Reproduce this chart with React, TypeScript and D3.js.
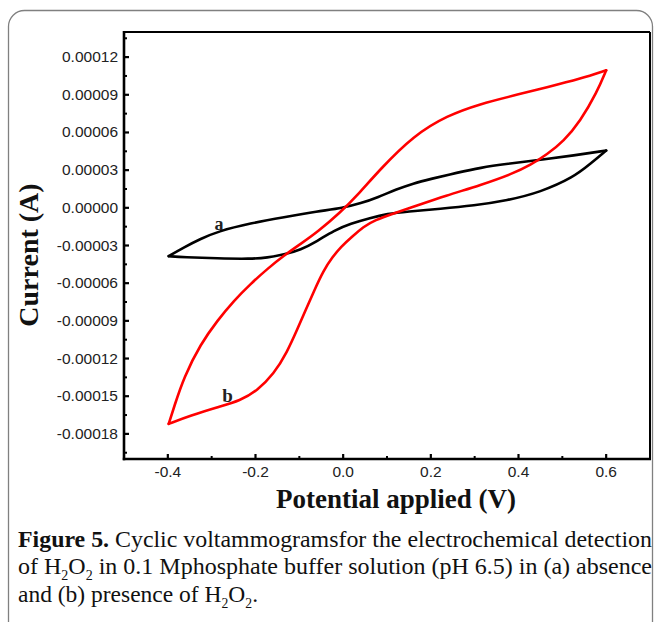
import React from "react";
import * as d3 from "d3";

// ---- data (potential V, current A) ----
const curveAForward: [number, number][] = [
  [-0.398, -3.85e-5], [-0.363, -3.14e-5], [-0.325, -2.47e-5], [-0.287, -1.89e-5],
  [-0.211, -1.22e-5], [-0.135, -0.75e-5], [-0.059, -0.29e-5], [0.0, 0.0],
  [0.04, 0.35e-5], [0.08, 0.85e-5], [0.12, 1.45e-5], [0.16, 1.95e-5], [0.2, 2.3e-5],
  [0.26, 2.8e-5], [0.313, 3.2e-5], [0.374, 3.5e-5], [0.45, 3.82e-5],
  [0.526, 4.17e-5], [0.6, 4.56e-5],
];
const curveAReturn: [number, number][] = [
  [0.6, 4.56e-5], [0.564, 3.5e-5], [0.526, 2.44e-5], [0.45, 1.24e-5],
  [0.374, 0.58e-5], [0.298, 0.18e-5], [0.222, -0.08e-5], [0.146, -0.29e-5],
  [0.1, -0.48e-5], [0.062, -0.8e-5], [0.017, -1.25e-5], [-0.021, -1.8e-5],
  [-0.059, -2.65e-5], [-0.097, -3.35e-5], [-0.135, -3.72e-5], [-0.173, -3.97e-5],
  [-0.211, -4.07e-5], [-0.287, -4.03e-5], [-0.363, -3.93e-5], [-0.398, -3.85e-5],
];
const curveBForward: [number, number][] = [
  [-0.398, -17.2e-5], [-0.386, -15.88e-5], [-0.3635, -13.49e-5], [-0.325, -10.83e-5],
  [-0.287, -8.98e-5], [-0.249, -7.38e-5], [-0.211, -6.05e-5], [-0.173, -4.86e-5],
  [-0.135, -3.8e-5], [-0.097, -2.87e-5], [-0.059, -1.94e-5], [-0.006, -0.35e-5],
  [0.032, 0.98e-5], [0.085, 3.1e-5], [0.161, 5.76e-5], [0.237, 7.35e-5],
  [0.313, 8.28e-5], [0.389, 8.94e-5], [0.465, 9.6e-5], [0.541, 10.27e-5],
  [0.6, 10.95e-5],
];
const curveBReturn: [number, number][] = [
  [0.6, 10.95e-5], [0.579, 9.2e-5], [0.541, 6.9e-5], [0.503, 5.3e-5],
  [0.465, 4.25e-5], [0.427, 3.4e-5], [0.389, 2.75e-5], [0.313, 1.8e-5],
  [0.237, 1.0e-5], [0.15, -0.04e-5], [0.123, -0.35e-5], [0.07, -1.0e-5],
  [0.047, -1.5e-5], [0.02, -2.3e-5], [-0.005, -3.1e-5], [-0.025, -3.95e-5],
  [-0.045, -5.0e-5], [-0.065, -6.5e-5], [-0.085, -8.1e-5], [-0.105, -9.7e-5],
  [-0.128, -11.5e-5], [-0.158, -13.22e-5], [-0.196, -14.55e-5], [-0.234, -15.35e-5],
  [-0.287, -15.88e-5], [-0.348, -16.54e-5], [-0.398, -17.2e-5],
];

const xMajorTicks = [-0.4, -0.2, 0.0, 0.2, 0.4, 0.6];
const xTickLabels = ["-0.4", "-0.2", "0.0", "0.2", "0.4", "0.6"];
const xMinorTicks = [-0.3, -0.1, 0.1, 0.3, 0.5];
const yMajorTicks = [-0.00018, -0.00015, -0.00012, -0.00009, -0.00006, -0.00003, 0, 0.00003, 0.00006, 0.00009, 0.00012];
const yTickLabels = ["-0.00018", "-0.00015", "-0.00012", "-0.00009", "-0.00006", "-0.00003", "0.00000", "0.00003", "0.00006", "0.00009", "0.00012"];
const yMinorTicks = [-0.000195, -0.000165, -0.000135, -0.000105, -0.000075, -0.000045, -0.000015, 0.000015, 0.000045, 0.000075, 0.000105, 0.000135];
const labelA: [number, number] = [-0.283, -0.0000175];
const labelB: [number, number] = [-0.264, -0.0001545];

const W = 654;
const H = 622;
const L = 124, R = 650, T = 32, B = 459;

export default function App() {
  const x = d3.scaleLinear().domain([-0.5, 0.7]).range([L, R]);
  const y = d3.scaleLinear().domain([-0.0002, 0.00014]).range([B, T]);
  const line = d3
    .line<[number, number]>()
    .x((d) => x(d[0]))
    .y((d) => y(d[1]))
    .curve(d3.curveBasis);

  const sans = "'Liberation Sans', Arial, sans-serif";
  const serif = "'Liberation Serif', 'Times New Roman', serif";

  const branches = [
    { d: curveAForward, c: "#000" },
    { d: curveAReturn, c: "#000" },
    { d: curveBForward, c: "#ff0000" },
    { d: curveBReturn, c: "#ff0000" },
  ];

  return (
    <svg
      width={W}
      height={H}
      style={{ position: "absolute", left: 0, top: 0, background: "#fff" }}
    >
      <rect x={8.5} y={10.5} width={644} height={630} rx={16} fill="#fff" stroke="#808080" strokeWidth={1.3} />

      {/* curves */}
      {branches.map((b, i) => (
        <path key={"c" + i} d={line(b.d) || ""} fill="none" stroke={b.c} strokeWidth={2.6} strokeLinejoin="round" strokeLinecap="round" />
      ))}

      {/* frame */}
      <line x1={L} y1={T} x2={R} y2={T} stroke="#000" strokeWidth={2} />
      <line x1={R} y1={T} x2={R} y2={B} stroke="#000" strokeWidth={2} />
      <line x1={L} y1={T - 1} x2={L} y2={B + 1.2} stroke="#000" strokeWidth={2.6} />
      <line x1={L - 1.2} y1={B} x2={R + 1} y2={B} stroke="#000" strokeWidth={2.6} />

      {/* y ticks */}
      {yMajorTicks.map((t, i) => (
        <g key={"ym" + i}>
          <line x1={L} x2={L + 5} y1={y(t)} y2={y(t)} stroke="#000" strokeWidth={2.2} />
          <text x={118} y={y(t) + 5} textAnchor="end" fontFamily={sans} fontSize={15.5} fill="#222">
            {yTickLabels[i]}
          </text>
        </g>
      ))}
      {yMinorTicks.map((t, i) => (
        <line key={"yn" + i} x1={L} x2={L + 3} y1={y(t)} y2={y(t)} stroke="#000" strokeWidth={2} />
      ))}

      {/* x ticks */}
      {xMajorTicks.map((t, i) => (
        <g key={"xm" + i}>
          <line x1={x(t)} x2={x(t)} y1={B} y2={B - 5} stroke="#000" strokeWidth={2.2} />
          <text x={x(t)} y={477} textAnchor="middle" fontFamily={sans} fontSize={15.5} fill="#222">
            {xTickLabels[i]}
          </text>
        </g>
      ))}
      {xMinorTicks.map((t, i) => (
        <line key={"xn" + i} x1={x(t)} x2={x(t)} y1={B} y2={B - 3} stroke="#000" strokeWidth={2} />
      ))}

      {/* curve labels */}
      <text x={x(labelA[0])} y={y(labelA[1])} textAnchor="middle" fontFamily={serif} fontWeight="bold" fontSize={18} fill="#222">a</text>
      <text x={x(labelB[0])} y={y(labelB[1])} textAnchor="middle" fontFamily={serif} fontWeight="bold" fontSize={19} fill="#222">b</text>

      {/* axis titles */}
      <text x={396} y={508} textAnchor="middle" fontFamily={serif} fontWeight="bold" fontSize={27} fill="#111">
        Potential applied (V)
      </text>
      <text
        transform="translate(38,255) rotate(-90)"
        textAnchor="middle"
        fontFamily={serif}
        fontWeight="bold"
        fontSize={28}
        fill="#111"
      >
        Current (A)
      </text>

      {/* caption */}
      <text x={18} y={547} fontFamily={serif} fontSize={24} fill="#111" textLength={634} lengthAdjust="spacingAndGlyphs">
        <tspan fontWeight="bold">Figure 5.</tspan>
        <tspan> Cyclic voltammogramsfor the electrochemical detection</tspan>
      </text>
      <text x={18} y={574} fontFamily={serif} fontSize={24} fill="#111" textLength={634} lengthAdjust="spacingAndGlyphs">
        <tspan>of H</tspan>
        <tspan fontSize={14} dy={6}>2</tspan>
        <tspan dy={-6}>O</tspan>
        <tspan fontSize={14} dy={6}>2</tspan>
        <tspan dy={-6}> in 0.1 Mphosphate buffer solution (pH 6.5) in (a) absence</tspan>
      </text>
      <text x={18} y={602} fontFamily={serif} fontSize={24} fill="#111" textLength={240} lengthAdjust="spacingAndGlyphs">
        <tspan>and (b) presence of H</tspan>
        <tspan fontSize={14} dy={6}>2</tspan>
        <tspan dy={-6}>O</tspan>
        <tspan fontSize={14} dy={6}>2</tspan>
        <tspan dy={-6}>.</tspan>
      </text>
    </svg>
  );
}
